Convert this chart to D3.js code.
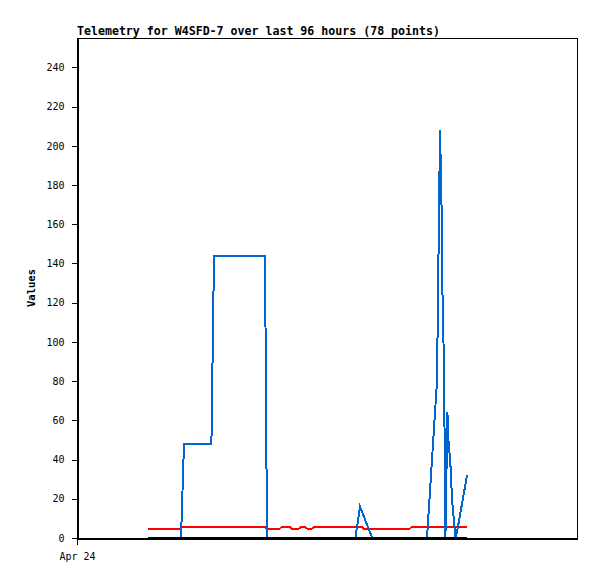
<!DOCTYPE html>
<html>
<head>
<meta charset="utf-8">
<script src="https://cdn.jsdelivr.net/npm/d3@7"></script>
<style>
  body { margin: 0; background: #fff; }
  text { font-family: "DejaVu Sans Mono", "Liberation Mono", monospace; }
</style>
</head>
<body>
<svg id="chart"></svg>
<script>
// hours since Apr 24 00:00, value
const blueSeries = [
  [17.75, 0], [26.0, 0], [26.75, 48], [33.6, 48], [34.25, 144], [47.0, 144],
  [47.5, 0], [69.6, 0], [70.75, 16], [73.8, 0], [87.5, 0], [90.0, 80],
  [90.75, 208], [91.1, 175], [91.4, 120], [91.75, 88], [92.1, 0], [92.6, 64],
  [92.9, 48], [93.3, 40], [93.75, 20], [94.6, 0], [95.0, 3], [97.5, 32]
];
const redSeries = [
  [17.75, 4.8], [26.0, 4.8], [26.25, 5.8], [47.0, 5.8], [47.4, 4.8], [50.75, 4.8],
  [51.25, 5.8], [53.25, 5.8], [53.75, 4.8], [55.5, 4.8], [56.0, 5.5], [57.0, 5.5],
  [57.5, 4.8], [58.75, 4.8], [59.25, 5.5], [60.0, 5.8], [71.25, 5.8], [71.75, 4.8],
  [83.25, 4.8], [83.75, 5.8], [97.5, 5.8]
];
const blackSeries = [[17.75, 0], [97.5, 0]];
const yTicks = d3.range(0, 241, 20);
const xTicks = [0];
const xTickLabels = ['Apr 24'];

const width = 597, height = 579;
const margin = { top: 38, right: 20, bottom: 41, left: 77 };

const svg = d3.select('#chart')
  .attr('width', width)
  .attr('height', height);

const x = d3.scaleLinear().domain([0, 125]).range([margin.left, width - margin.right]);
const y = d3.scaleLinear().domain([0, 255]).range([height - margin.bottom, margin.top]);

// plot frame
svg.append('rect')
  .attr('x', margin.left + 0.5)
  .attr('y', margin.top + 0.5)
  .attr('width', width - margin.left - margin.right)
  .attr('height', height - margin.top - margin.bottom)
  .style('fill', 'none')
  .style('stroke', '#000')
  .style('shape-rendering', 'crispEdges');

// y axis
const yAxis = svg.append('g')
  .attr('transform', `translate(${margin.left + 0.5},0)`)
  .call(d3.axisLeft(y).tickValues(yTicks).tickSize(6).tickSizeOuter(0).tickPadding(7));
yAxis.selectAll('path, line').style('stroke', '#000').style('shape-rendering', 'crispEdges');
yAxis.selectAll('text').style('font-size', '10px').style('font-family', '"DejaVu Sans Mono", monospace');

// x axis
const xAxis = svg.append('g')
  .attr('transform', `translate(0,${height - margin.bottom + 0.5})`)
  .call(d3.axisBottom(x).tickValues(xTicks).tickFormat((d, i) => xTickLabels[i]).tickSize(6).tickSizeOuter(0).tickPadding(8));
xAxis.selectAll('path, line').style('stroke', '#000').style('shape-rendering', 'crispEdges');
xAxis.selectAll('text').style('font-size', '10px').style('font-family', '"DejaVu Sans Mono", monospace');

const line = d3.line().x(d => x(d[0])).y(d => y(d[1]));

function drawSeries(data, color) {
  svg.append('path')
    .datum(data)
    .attr('d', line)
    .style('fill', 'none')
    .style('stroke', color)
    .style('stroke-width', 2)
    .style('shape-rendering', 'crispEdges');
}

drawSeries(redSeries, '#ff0000');
drawSeries(blueSeries, '#0066cc');
drawSeries(blackSeries, '#000000');

// title
svg.append('text')
  .attr('x', margin.left)
  .attr('y', 35)
  .style('font-size', '11.6px')
  .style('font-weight', 'bold')
  .text('Telemetry for W4SFD-7 over last 96 hours (78 points)');

// y label
svg.append('text')
  .attr('transform', `translate(35,${(margin.top + height - margin.bottom) / 2}) rotate(-90)`)
  .attr('text-anchor', 'middle')
  .style('font-size', '10.5px')
  .style('font-weight', 'bold')
  .text('Values');
</script>
</body>
</html>
